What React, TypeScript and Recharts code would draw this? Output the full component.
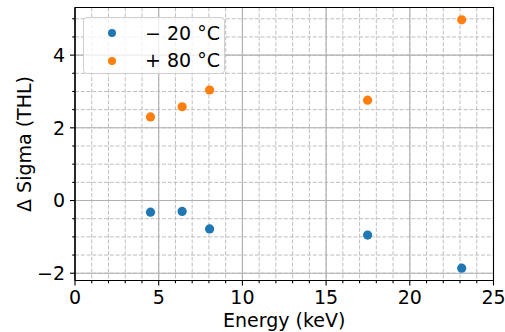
import React from 'react';
import {
  ScatterChart,
  Scatter,
  XAxis,
  YAxis,
  CartesianGrid,
  ReferenceArea,
  Legend,
  Label,
} from 'recharts';

// Measured threshold-width shift per X-ray line energy
const energies = [4.51, 6.4, 8.04, 17.48, 23.1];
const coldDelta = [-0.32, -0.3, -0.78, -0.95, -1.86];
const hotDelta = [2.3, 2.58, 3.04, 2.76, 4.97];

const seriesNames = ['\u2212 20 \u00b0C', '+ 80 \u00b0C'];
const seriesColors = ['#1f77b4', '#ff7f0e'];

const xMajorTicks = [0, 5, 10, 15, 20, 25];
const xAllTicks = [
  0, 1, 2, 3, 4, 5, 6, 7, 8, 9, 10, 11, 12, 13, 14, 15, 16, 17, 18, 19, 20,
  21, 22, 23, 24, 25,
];
const yMajorTicks = [-2, 0, 2, 4];
const yAllTicks = [-2, -1.5, -1, -0.5, 0, 0.5, 1, 1.5, 2, 2.5, 3, 3.5, 4, 4.5, 5];

const xDomain: [number, number] = [0, 25];
const yDomain: [number, number] = [-2.2, 5.31];

const xLabel = 'Energy (keV)';
const yLabel = '\u0394 Sigma (THL)';

const coldData = energies.map((x, i) => ({ x, y: coldDelta[i] }));
const hotData = energies.map((x, i) => ({ x, y: hotDelta[i] }));

const FONT = '"DejaVu Sans", sans-serif';
const FONT_SIZE = 19;
const LEGEND_FONT_SIZE = 19;
const TICK_SIZE = 5;
const TICK_GAP = 5;
const MINOR_SIZE = 2.8;

const fmt = (v: number) => (v < 0 ? '\u2212' + Math.abs(v) : String(v));

function XTick(props: any) {
  const { x, y, payload } = props;
  const v = payload.value as number;
  const major = xMajorTicks.includes(v);
  const y0 = y - TICK_SIZE - TICK_GAP;
  return (
    <g>
      <line
        x1={x}
        x2={x}
        y1={y0}
        y2={y0 + (major ? TICK_SIZE : MINOR_SIZE)}
        stroke="#000"
        strokeWidth={1.1}
      />
      {major && (
        <text
          x={x}
          y={y}
          dy="0.71em"
          textAnchor="middle"
          fontFamily={FONT}
          fontSize={FONT_SIZE}
          fill="#000"
        >
          {fmt(v)}
        </text>
      )}
    </g>
  );
}

function YTick(props: any) {
  const { x, y, payload } = props;
  const v = payload.value as number;
  const major = yMajorTicks.includes(v);
  const x0 = x + TICK_SIZE + TICK_GAP;
  return (
    <g>
      <line
        x1={x0 - (major ? TICK_SIZE : MINOR_SIZE)}
        x2={x0}
        y1={y}
        y2={y}
        stroke="#000"
        strokeWidth={1.1}
      />
      {major && (
        <text
          x={x}
          y={y}
          dy="0.355em"
          textAnchor="end"
          fontFamily={FONT}
          fontSize={FONT_SIZE}
          fill="#000"
        >
          {fmt(v)}
        </text>
      )}
    </g>
  );
}

const dot = (color: string) => (p: any) =>
  <circle cx={p.cx} cy={p.cy} r={4.6} fill={color} />;

const renderLegend = () => (
  <div
    style={{
      position: 'relative',
      width: 142,
      height: 57,
      boxSizing: 'border-box',
      border: '1px solid #d0d0d0',
      borderRadius: 4,
      background: 'rgba(255,255,255,0.8)',
      fontFamily: FONT,
      fontSize: LEGEND_FONT_SIZE,
      color: '#000',
    }}
  >
    {seriesNames.map((name, i) => (
      <div
        key={name}
        style={{
          position: 'absolute',
          left: 0,
          top: 15.4 + i * 27.3 - 13.65,
          height: 27.3,
          display: 'flex',
          alignItems: 'center',
          whiteSpace: 'nowrap',
        }}
      >
        <span
          style={{
            display: 'inline-block',
            width: 8,
            height: 8,
            borderRadius: '50%',
            background: seriesColors[i],
            marginLeft: 23.5,
          }}
        />
        <span style={{ marginLeft: 29.5, lineHeight: '27.3px' }}>{name}</span>
      </div>
    ))}
  </div>
);

export default function App() {
  return (
    <div style={{ position: 'absolute', left: 0, top: 0 }}>
      <ScatterChart
        width={505}
        height={332}
        margin={{ top: 7.5, right: 11.5, bottom: 0, left: 0 }}
      >
        <CartesianGrid
          verticalValues={xAllTicks}
          horizontalValues={yAllTicks}
          stroke="#b8b8b8"
          strokeWidth={0.9}
          strokeDasharray="4 1.8"
        />
        <CartesianGrid
          verticalValues={xMajorTicks}
          horizontalValues={yMajorTicks}
          stroke="#b0b0b0"
          strokeWidth={1.1}
        />
        <XAxis
          type="number"
          dataKey="x"
          domain={xDomain}
          allowDataOverflow
          ticks={xAllTicks}
          interval={0}
          height={51.5}
          tickSize={TICK_SIZE}
          tickMargin={TICK_GAP}
          tickLine={false}
          tick={<XTick />}
          axisLine={{ stroke: '#000', strokeWidth: 1.1 }}
        >
          <Label
            value={xLabel}
            position="insideBottom"
            offset={5}
            fontFamily={FONT}
            fontSize={FONT_SIZE}
            fill="#000"
          />
        </XAxis>
        <YAxis
          type="number"
          dataKey="y"
          domain={yDomain}
          allowDataOverflow
          ticks={yAllTicks}
          interval={0}
          width={75}
          tickSize={TICK_SIZE}
          tickMargin={TICK_GAP}
          tickLine={false}
          tick={<YTick />}
          axisLine={{ stroke: '#000', strokeWidth: 1.1 }}
        >
          <Label
            value={yLabel}
            angle={-90}
            position="insideLeft"
            offset={24}
            fontFamily={FONT}
            fontSize={FONT_SIZE}
            fill="#000"
            style={{ textAnchor: 'middle' }}
          />
        </YAxis>
        <ReferenceArea
          x1={xDomain[0]}
          x2={xDomain[1]}
          y1={yDomain[0]}
          y2={yDomain[1]}
          fill="none"
          stroke="#000"
          strokeWidth={1.1}
        />
        <Scatter
          name={seriesNames[0]}
          data={coldData}
          fill={seriesColors[0]}
          shape={dot(seriesColors[0])}
          isAnimationActive={false}
        />
        <Scatter
          name={seriesNames[1]}
          data={hotData}
          fill={seriesColors[1]}
          shape={dot(seriesColors[1])}
          isAnimationActive={false}
        />
        <Legend
          content={renderLegend}
          layout="horizontal"
          verticalAlign="middle"
          align="center"
          wrapperStyle={{ left: 83, top: 17, width: 142, height: 57 }}
        />
      </ScatterChart>
    </div>
  );
}
